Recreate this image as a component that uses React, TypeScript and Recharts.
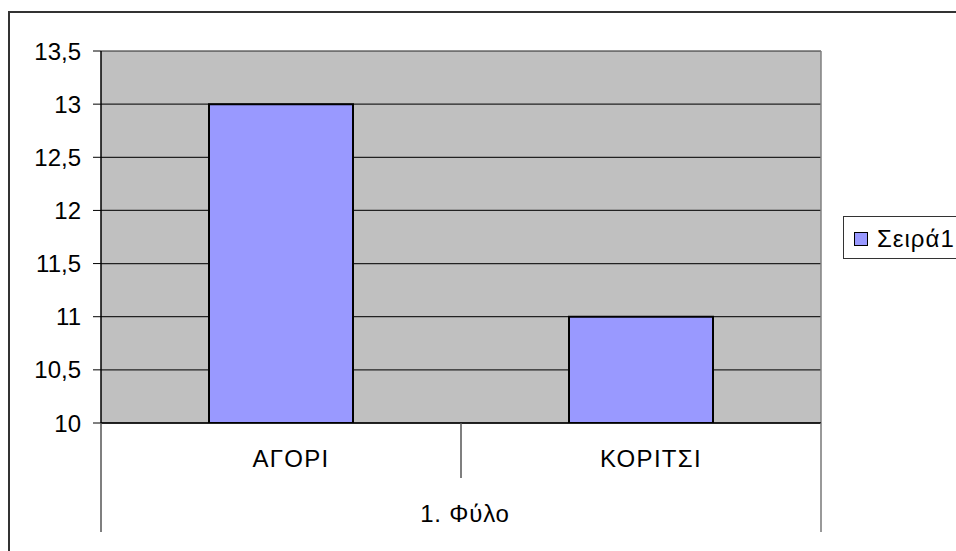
import React from 'react';
import { BarChart, Bar, XAxis, YAxis, CartesianGrid, Legend } from 'recharts';

const categories = ['ΑΓΟΡΙ', 'ΚΟΡΙΤΣΙ'];
const values = [13, 11];
const yTicks = [10, 10.5, 11, 11.5, 12, 12.5, 13, 13.5];
const seriesName = 'Σειρά1';
const groupLabel = '1. Φύλο';

const data = categories.map((c, i) => ({ name: c, value: values[i] }));

const FONT = "'Liberation Sans', Arial, sans-serif";
const W = 956;
const H = 551;

const CatTick = (props: any) => {
  const { x, y, payload, index, visibleTicksCount, width } = props;
  const count = visibleTicksCount || categories.length;
  const bw = (width || 720) / count;
  const left = x - bw / 2;
  const right = x + bw / 2;
  const isFirst = index === 0;
  const isLast = index === count - 1;
  return (
    <g>
      <line x1={left} x2={left} y1={y} y2={isFirst ? y + 109 : y + 55} stroke="#555" strokeWidth={1.5} />
      {isLast && <line x1={right} x2={right} y1={y} y2={y + 109} stroke="#777" strokeWidth={1.5} />}
      <text
        x={x}
        y={y + 44}
        dx={10}
        textAnchor="middle"
        fontSize={24}
        letterSpacing={1.3}
        fontFamily={FONT}
        fill="#000"
      >
        {payload.value}
      </text>
      {isFirst && (
        <text
          x={left + (bw * count) / 2}
          y={y + 99}
          dx={4}
          textAnchor="middle"
          fontSize={24}
          letterSpacing={0.8}
          fontFamily={FONT}
          fill="#000"
        >
          {groupLabel}
        </text>
      )}
    </g>
  );
};

const fmt = (v: number) => String(v).replace('.', ',');

const LegendBox = () => (
  <div
    style={{
      position: 'relative',
      width: 130,
      height: 43,
      border: '1px solid #333',
      boxSizing: 'border-box',
      background: '#fff',
      fontFamily: FONT,
    }}
  >
    <div
      style={{
        position: 'absolute',
        left: 10,
        top: 15,
        width: 14,
        height: 14,
        background: '#9999FF',
        border: '1.5px solid #000',
        boxSizing: 'border-box',
      }}
    />
    <span
      style={{
        position: 'absolute',
        left: 33,
        top: 0,
        lineHeight: '44px',
        fontSize: 24,
        letterSpacing: 1,
        color: '#000',
        whiteSpace: 'nowrap',
      }}
    >
      {seriesName}
    </span>
  </div>
);

export default function App() {
  return (
    <div style={{ position: 'absolute', left: 0, top: 0, width: W, height: H, overflow: 'hidden', background: '#fff' }}>
      <div
        style={{
          position: 'absolute',
          left: 8,
          top: 11,
          width: 1000,
          height: 600,
          border: '2px solid #333',
          boxSizing: 'border-box',
        }}
      />
      <div style={{ position: 'absolute', left: 0, top: 0 }}>
        <BarChart
          width={W}
          height={H}
          data={data}
          margin={{ top: 51, right: 135, bottom: 0, left: 0 }}
          barCategoryGap="30%"
        >
          <CartesianGrid
            vertical={false}
            fill="#C0C0C0"
            fillOpacity={1}
            stroke="#222"
            strokeWidth={1.2}
          />
          <CartesianGrid
            horizontal={false}
            verticalCoordinatesGenerator={({ offset }: any) => [offset.left + offset.width]}
            stroke="#808080"
            strokeWidth={1.5}
          />
          <XAxis
            dataKey="name"
            height={128}
            tickSize={0}
            tickMargin={0}
            tickLine={false}
            axisLine={{ stroke: '#000', strokeWidth: 1.5 }}
            tick={<CatTick />}
            interval={0}
          />
          <YAxis
            width={101}
            domain={[10, 13.5]}
            ticks={yTicks}
            tickFormatter={fmt}
            tickSize={8}
            tickMargin={12}
            axisLine={{ stroke: '#000', strokeWidth: 1.5 }}
            tickLine={{ stroke: '#000' }}
            tick={{ fontSize: 24, fontFamily: FONT, fill: '#000' }}
            allowDataOverflow
          />
          <Legend
            layout="vertical"
            align="center"
            verticalAlign="middle"
            wrapperStyle={{ left: 843, top: 216, width: 130, height: 43 }}
            content={() => <LegendBox />}
          />
          <Bar
            dataKey="value"
            name={seriesName}
            fill="#9999FF"
            stroke="#000"
            strokeWidth={2}
            isAnimationActive={false}
          />
        </BarChart>
      </div>
    </div>
  );
}
